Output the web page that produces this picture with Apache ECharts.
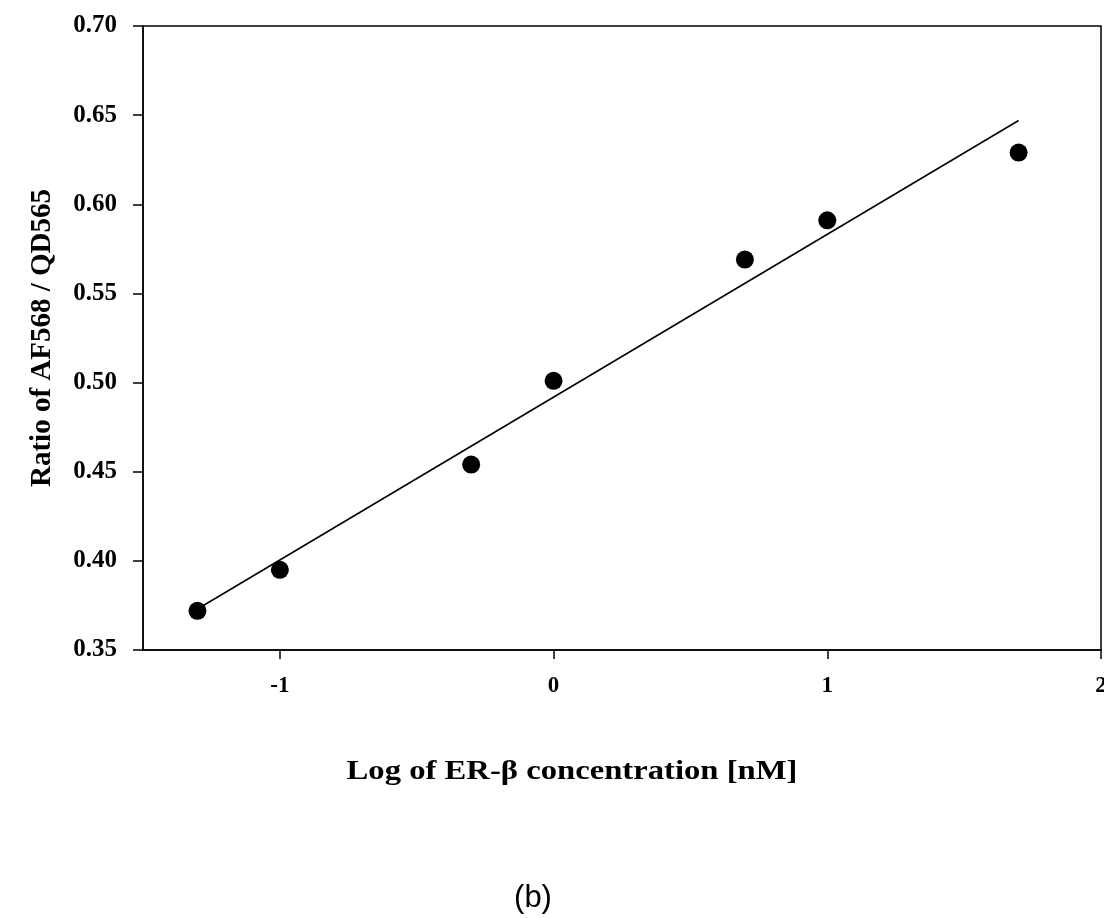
<!DOCTYPE html>
<html>
<head>
<meta charset="utf-8">
<script src="https://cdn.jsdelivr.net/npm/echarts@6/dist/echarts.min.js"></script>
<style>
html,body{margin:0;padding:0;background:#fff;}
#chart{width:1104px;height:918px;}
</style>
</head>
<body>
<div id="chart"></div>
<script>
// Data
const logConc = [-1.301, -1, -0.301, 0, 0.699, 1, 1.699];
const ratio = [0.372, 0.395, 0.454, 0.501, 0.569, 0.591, 0.629];
const fitX = [-1.301, 1.699];
const fitY = [0.373, 0.647];
const xTicks = [-1, 0, 1, 2];
const yTicks = [0.35, 0.40, 0.45, 0.50, 0.55, 0.60, 0.65, 0.70];

const serif = '"Liberation Serif", "DejaVu Serif", serif';
const chart = echarts.init(document.getElementById('chart'));
chart.setOption({
  animation: false,
  backgroundColor: '#fff',
  grid: {left: 143, right: 3, top: 26, bottom: 268, outerBoundsMode: 'none', containLabel: false,
         show: true, borderColor: '#000', borderWidth: 1.5},
  xAxis: {
    type: 'value', min: -1.5, max: 2,
    axisLine: {show: true, onZero: false, lineStyle: {color: '#000', width: 1.5}},
    axisTick: {show: true, length: 9, customValues: xTicks, lineStyle: {color: '#000', width: 1.5}},
    axisLabel: {customValues: xTicks, margin: 25, color: '#000', fontFamily: serif, fontWeight: 'bold', fontSize: 23},
    splitLine: {show: false}
  },
  yAxis: {
    type: 'value', min: 0.35, max: 0.70, interval: 0.05,
    name: 'Ratio of AF568 / QD565', nameLocation: 'middle', nameGap: 86, nameRotate: 90,
    nameTextStyle: {color: '#000', fontFamily: serif, fontWeight: 'bold', fontSize: 29},
    axisLine: {show: true, onZero: false, lineStyle: {color: '#000', width: 1.5}},
    axisTick: {show: true, length: 10, lineStyle: {color: '#000', width: 1.5}},
    axisLabel: {margin: 26, color: '#000', fontFamily: serif, fontWeight: 'bold', fontSize: 25,
      formatter: v => v.toFixed(2)},
    splitLine: {show: false}
  },
  series: [
    {type: 'line', data: fitX.map((x, i) => [x, fitY[i]]), showSymbol: false, symbol: 'none',
     lineStyle: {color: '#000', width: 1.5}, z: 2},
    {type: 'scatter', data: logConc.map((x, i) => [x, ratio[i]]), symbol: 'circle', symbolSize: 18,
     itemStyle: {color: '#000', opacity: 1}, z: 3}
  ],
  graphic: [
    {type: 'text', x: 572, y: 772, scaleX: 1.21, scaleY: 1,
     style: {text: 'Log of ER-β concentration [nM]', x: 0, y: 0,
      align: 'center', verticalAlign: 'middle', font: 'bold 27px "Liberation Serif", serif', fill: '#000'}},
    {type: 'text', x: 533, y: 898,
     style: {text: '(b)', x: 0, y: 0, align: 'center', verticalAlign: 'middle',
      font: '31px "Liberation Sans", sans-serif', fill: '#000'}}
  ]
});
</script>
</body>
</html>
